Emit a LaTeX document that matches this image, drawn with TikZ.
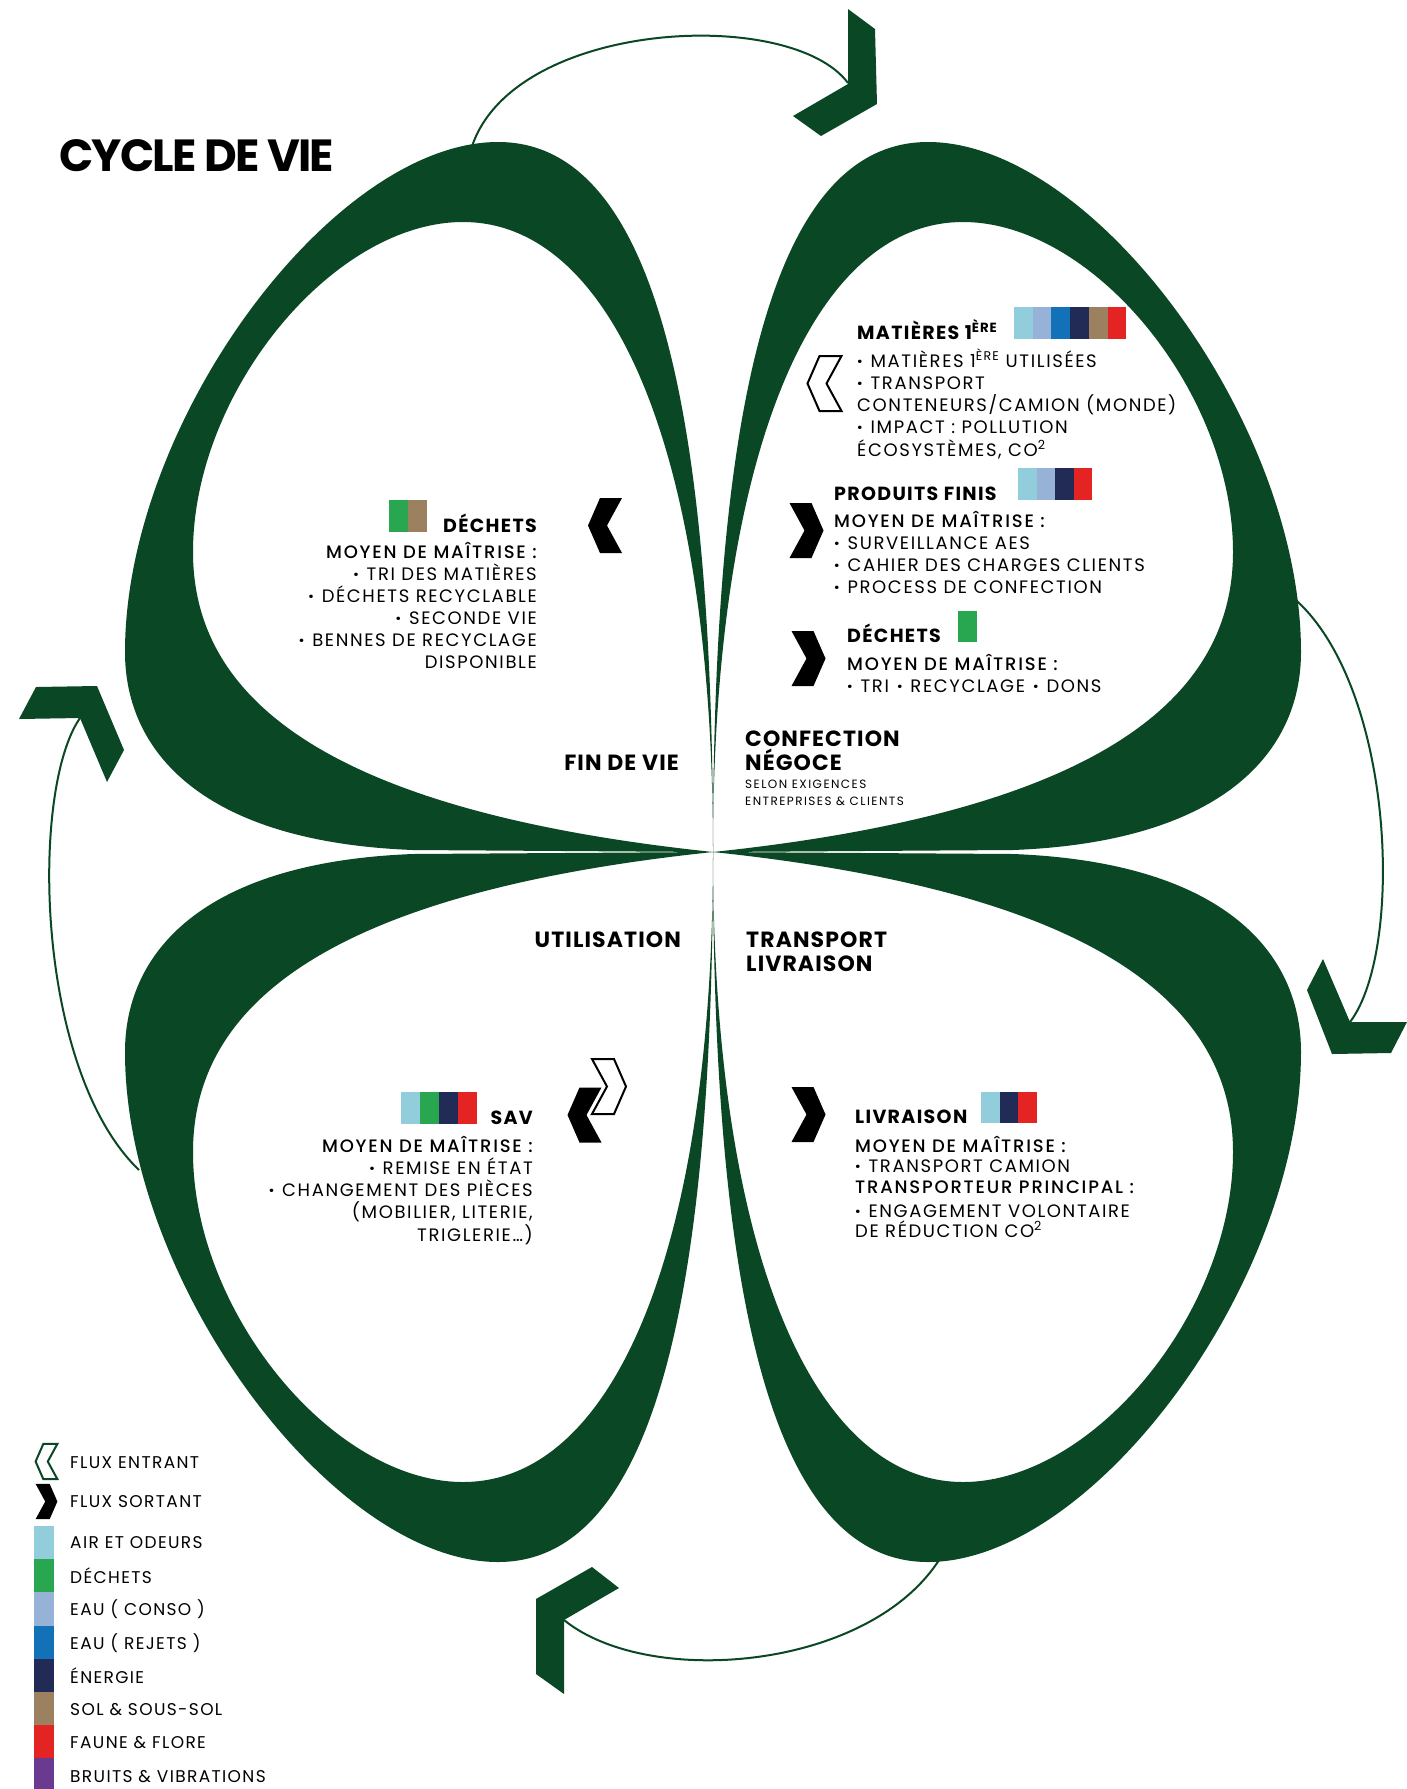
\documentclass[tikz,border=0pt]{standalone}
\usepackage{fontspec}
\setmainfont{Poppins}
\newfontfamily\medfont{Poppins Medium}
\usetikzlibrary{positioning}

\definecolor{leafgreen}{RGB}{10,71,36}
\definecolor{cair}{RGB}{146,205,220}
\definecolor{cdechets}{RGB}{40,167,80}
\definecolor{cconso}{RGB}{150,178,214}
\definecolor{crejets}{RGB}{18,113,183}
\definecolor{cenergie}{RGB}{34,43,85}
\definecolor{csol}{RGB}{156,129,97}
\definecolor{cfaune}{RGB}{228,36,35}
\definecolor{cbruit}{RGB}{106,58,145}
\newcommand\puce{\textbf{·}}

\tikzset{
  body/.style={inner sep=0pt, font=\fontsize{18}{22}\selectfont\addfontfeature{LetterSpace=9}},
  mid/.style={inner sep=0pt, font=\medfont\fontsize{18}{22}\selectfont\addfontfeature{LetterSpace=10}},
  head/.style={inner sep=0pt, font=\bfseries\fontsize{19}{22}\selectfont\addfontfeature{LetterSpace=7}},
  stage/.style={inner sep=0pt, font=\bfseries\fontsize{22}{24}\selectfont\addfontfeature{LetterSpace=5}},
  small/.style={inner sep=0pt, font=\fontsize{12}{14}\selectfont\addfontfeature{LetterSpace=12}},
  legend/.style={inner sep=0pt, font=\fontsize{17}{20}\selectfont\addfontfeature{LetterSpace=8}},
  title/.style={inner sep=0pt, font=\bfseries\fontsize{45}{50}\selectfont\addfontfeature{LetterSpace=-4}},
  cycle line/.style={draw=leafgreen, line width=2pt},
  hollow/.style={draw, fill=white, line width=2pt},
  leaf/.pic={
    \fill[leafgreen, even odd rule]
      (0,0) .. controls (0,450) and (60,710) .. (215,710)
      .. controls (380,710) and (588,430) .. (588,200)
      .. controls (588,100) and (510,10) .. (300,2) -- cycle
      (0,0) .. controls (0,400) and (100,630) .. (250,630)
      .. controls (380,630) and (520,460) .. (520,300)
      .. controls (520,150) and (380,40) .. (0,0) -- cycle;
  },
  chev/.pic={
    \path[pic actions] (-17,-27.5) -- (5,-27.5) -- (17,0) -- (5,27.5)
      -- (-17,27.5) -- (-2,0) -- cycle;
  }
}

\begin{document}
\begin{tikzpicture}[x=1pt, y=-1pt]
\fill[white] (0,0) rectangle (1407,1789);
\useasboundingbox (0,0) rectangle (1407,1789);

% cycle arrows
\coordinate (tl-out) at (470,153);   \coordinate (top-in) at (848,83);
\coordinate (tr-out) at (1290,595);  \coordinate (right-in) at (1350,1022);
\coordinate (br-out) at (945,1550);  \coordinate (bottom-in) at (564,1620);
\coordinate (bl-out) at (139,1170);  \coordinate (left-in) at (80,718);
\draw[cycle line] (tl-out) .. controls (505,20) and (790,5) .. (top-in);
\draw[cycle line] (tr-out) .. controls (1395,680) and (1405,950) .. (right-in);
\draw[cycle line] (br-out) .. controls (880,1670) and (650,1690) .. (bottom-in);
\draw[cycle line] (bl-out) .. controls (35,1070) and (30,790) .. (left-in);
\fill[leafgreen] (848,9) -- (875,29) -- (877,104) -- (821,136) -- (793,116) -- (848,84) -- cycle;
\fill[leafgreen] (1323,959) -- (1350,1022) -- (1407,1022) -- (1391,1053) -- (1332,1054) -- (1307,990) -- cycle;
\fill[leafgreen] (592,1567) -- (619,1588) -- (564,1620) -- (564,1694) -- (536,1674) -- (536,1599) -- cycle;
\fill[leafgreen] (19,719) -- (36,687) -- (97,686) -- (124,750) -- (107,782) -- (80,718) -- cycle;

% clover
\coordinate (centre) at (713,852);
\pic[xscale=-1, yscale=-1] at (centre) {leaf};
\pic[yscale=-1] at (centre) {leaf};
\pic[xscale=-1] at (centre) {leaf};
\pic at (centre) {leaf};

\node[title, anchor=base west] (title) at (59,171) {CYCLE DE VIE};

% confection / negoce
\node[head, anchor=base west] (mat) at (857,339) {MATIÈRES 1\textsuperscript{ÈRE}};
\foreach \c [count=\i from 0] in {cair,cconso,crejets,cenergie,csol,cfaune}
  \fill[\c] ({1014+18.7*\i},307) rectangle ++(18.7,32);
\foreach \txt [count=\i from 0] in {{\puce{} MATIÈRES 1\textsuperscript{ÈRE} UTILISÉES},{\puce{} TRANSPORT},
    {CONTENEURS/CAMION (MONDE)},{\puce{} IMPACT : POLLUTION},{ÉCOSYSTÈMES, CO\textsuperscript{2}}}
  \node[body, anchor=base west] (mat-\i) at (857,{367+22.3*\i}) {\txt};
\pic[hollow] at (824.5,383.5) [xscale=-1] {chev};

\node[head, anchor=base west] (pf) at (834,500) {PRODUITS FINIS};
\foreach \c [count=\i from 0] in {cair,cconso,cenergie,cfaune}
  \fill[\c] ({1018+18.5*\i},468) rectangle ++(18.5,32);
\node[mid, anchor=base west] (pf-m) at (834,527) {MOYEN DE MAÎTRISE :};
\foreach \txt [count=\i from 1] in {{\puce{} SURVEILLANCE AES},{\puce{} CAHIER DES CHARGES CLIENTS},{\puce{} PROCESS DE CONFECTION}}
  \node[body, anchor=base west] (pf-\i) at (834,{527+22.3*\i}) {\txt};
\pic[fill=black] at (806.5,530.5) {chev};

\node[head, anchor=base west] (dr) at (847,642) {DÉCHETS};
\fill[cdechets] (958,611) rectangle (977,642);
\node[mid, anchor=base west] (dr-m) at (847,670) {MOYEN DE MAÎTRISE :};
\node[body, anchor=base west] (dr-1) at (847,692) {\puce{} TRI \puce{} RECYCLAGE \puce{} DONS};
\pic[fill=black] at (808.5,658.5) {chev};

\node[stage, anchor=base west] (conf) at (745,746) {CONFECTION};
\node[stage, anchor=base west] (neg) at (745,770) {NÉGOCE};
\node[small, anchor=base west] (neg-1) at (745,788) {SELON EXIGENCES};
\node[small, anchor=base west] (neg-2) at (745,805) {ENTREPRISES \& CLIENTS};

% fin de vie
\node[head, anchor=base east] (dl) at (537,532) {DÉCHETS};
\foreach \c [count=\i from 0] in {cdechets,csol}
  \fill[\c] ({389+19*\i},500) rectangle ++(19,32);
\node[mid, anchor=base east] (dl-m) at (537,558) {MOYEN DE MAÎTRISE :};
\foreach \txt [count=\i from 1] in {{\puce{} TRI DES MATIÈRES},{\puce{} DÉCHETS RECYCLABLE},{\puce{} SECONDE VIE},
    {\puce{} BENNES DE RECYCLAGE},{DISPONIBLE}}
  \node[body, anchor=base east] (dl-\i) at (537,{558+22*\i}) {\txt};
\pic[fill=black] at (605,525.5) [xscale=-1] {chev};
\node[stage, anchor=base east] (fin) at (679,770) {FIN DE VIE};

% utilisation
\node[stage, anchor=base east] (util) at (681,947) {UTILISATION};
\node[head, anchor=base east] (sav) at (533,1124) {SAV};
\foreach \c [count=\i from 0] in {cair,cdechets,cenergie,cfaune}
  \fill[\c] ({401+19*\i},1092) rectangle ++(19,32);
\node[mid, anchor=base east] (sav-m) at (533,1152) {MOYEN DE MAÎTRISE :};
\foreach \txt [count=\i from 1] in {{\puce{} REMISE EN ÉTAT},{\puce{} CHANGEMENT DES PIÈCES},{(MOBILIER, LITERIE,},{TRIGLERIE…)}}
  \node[body, anchor=base east] (sav-\i) at (533,{1152+22.3*\i}) {\txt};
\pic[fill=black] at (584.5,1115) [xscale=-1] {chev};
\pic[hollow] at (609,1086.5) {chev};

% transport / livraison
\node[stage, anchor=base west] (trans) at (746,947) {TRANSPORT};
\node[stage, anchor=base west] (livr) at (746,971) {LIVRAISON};
\node[head, anchor=base west] (liv) at (855,1123) {LIVRAISON};
\foreach \c [count=\i from 0] in {cair,cenergie,cfaune}
  \fill[\c] ({981+18.7*\i},1092) rectangle ++(18.7,31);
\node[mid, anchor=base west] (liv-m) at (855,1152) {MOYEN DE MAÎTRISE :};
\node[body, anchor=base west] (liv-1) at (855,1172) {\puce{} TRANSPORT CAMION};
\node[mid, anchor=base west] (liv-2) at (855,1193) {TRANSPORTEUR PRINCIPAL :};
\node[body, anchor=base west] (liv-3) at (855,1217) {\puce{} ENGAGEMENT VOLONTAIRE};
\node[body, anchor=base west] (liv-4) at (855,1237) {DE RÉDUCTION CO\textsuperscript{2}};
\pic[fill=black] at (808.5,1114.5) {chev};

% legend
\pic[hollow, draw=leafgreen, scale=0.64] at (46.5,1461.5) [xscale=-1] {chev};
\pic[fill=black, scale=0.64] at (46.5,1501.5) {chev};
\node[legend, anchor=base west] (leg-in) at (70,1468) {FLUX ENTRANT};
\node[legend, anchor=base west] (leg-out) at (70,1507) {FLUX SORTANT};
\foreach \c [count=\i from 0] in {cair,cdechets,cconso,crejets,cenergie,csol,cfaune,cbruit}
  \fill[\c] (34,{1526+33.2*\i}) rectangle ++(20,33.2);
\foreach \txt/\yy [count=\i] in {AIR ET ODEURS/1548,DÉCHETS/1583,EAU ( CONSO )/1615,EAU ( REJETS )/1649,
    ÉNERGIE/1683,SOL \& SOUS-SOL/1715,FAUNE \& FLORE/1748,BRUITS \& VIBRATIONS/1782}
  \node[legend, anchor=base west] (leg-\i) at (70,\yy) {\txt};
\end{tikzpicture}
\end{document}
